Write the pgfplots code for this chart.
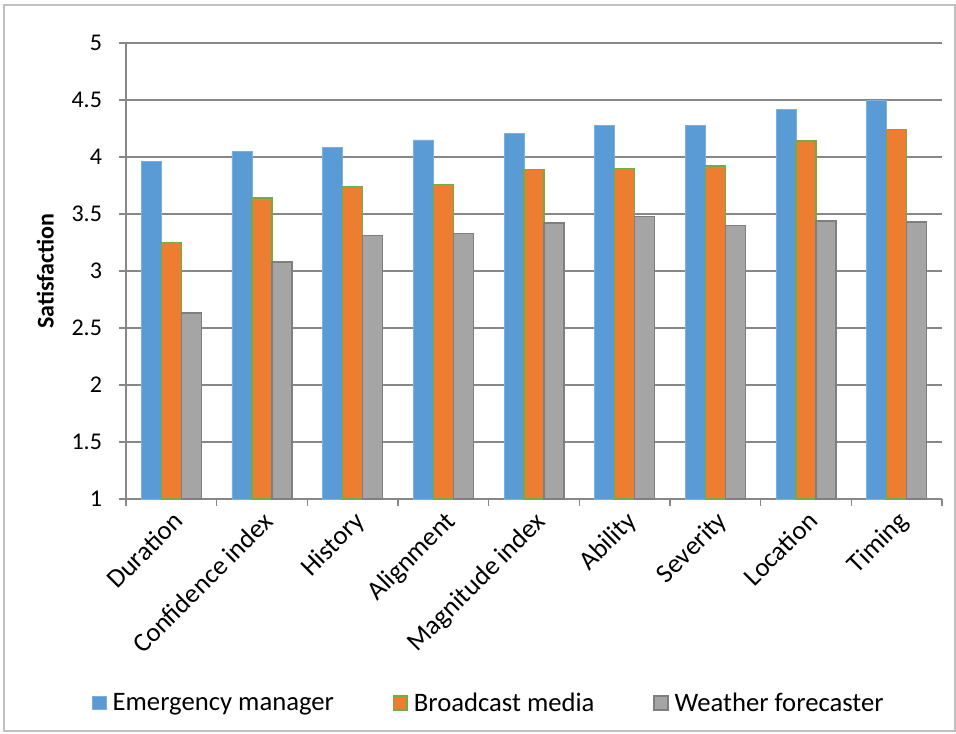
\documentclass[border=0pt]{standalone}
\usepackage{fontspec}
\setmainfont{Carlito}
\usepackage{pgfplots}
\pgfplotsset{compat=1.18}

\definecolor{emblue}{HTML}{5B9BD5}
\definecolor{emorange}{HTML}{ED7D31}
\definecolor{emgreen}{HTML}{70AD47}
\definecolor{emgray}{HTML}{A5A5A5}
\definecolor{edgegray}{HTML}{7F7F7F}
\definecolor{gridgray}{HTML}{878787}
\definecolor{framegray}{HTML}{BFBFBF}

\newcommand{\tickfont}{\fontsize{18}{21.6}\selectfont}
\newcommand{\catfont}{\fontsize{20}{24}\selectfont}

\begin{document}
\begin{tikzpicture}
\begin{scope}[x=0.75pt,y=0.75pt]
  \useasboundingbox (-126,-234) rectangle (830,499);
  \draw[framegray, line width=0.9pt] (-122,-232) rectangle (829,494);
\end{scope}
\begin{axis}[
    at={(0,0)}, anchor=south west,
    scale only axis,
    width=612pt, height=342pt,
    ybar=0pt, bar width=15pt,
    xmin=-0.5, xmax=8.5,
    ymin=1, ymax=5,
    ytick={1,1.5,...,5},
    xtick={0,...,8},
    xticklabels={Duration,Confidence index,History,Alignment,Magnitude index,Ability,Severity,Location,Timing},
    minor xtick={-0.5,0.5,...,8.5},
    major x tick style={draw=none},
    axis lines*=left,
    axis line style={gridgray, line width=0.8pt},
    tick align=outside,
    tick style={gridgray, line width=0.8pt},
    major tick length=5pt, minor tick length=5pt,
    ymajorgrids,
    grid style={gridgray, line width=0.8pt},
    /pgf/number format/assume math mode=true,
    yticklabel style={font=\tickfont, xshift=-9.5pt},
    xticklabel style={font=\catfont, rotate=45, anchor=north east, inner sep=2pt},
    ylabel={\textbf{Satisfaction}},
    ylabel style={font=\tickfont, at={(axis description cs:-0.099,0.5)}, anchor=center},
    legend columns=3,
    legend cell align=left,
    legend style={draw=none, fill=none, font=\catfont,
        at={(axis description cs:-0.042,-0.447)}, anchor=west, inner sep=0pt,
        /tikz/every odd column/.append style={column sep=2.5pt},
        /tikz/every even column/.append style={column sep=42pt}},
    legend image code/.code={\draw[#1] (0pt,-5.2pt) rectangle (10.4pt,5.2pt);},
]
\addplot[fill=emblue, draw=emblue!80!white, line width=0.6pt] coordinates {
  (0,3.96) (1,4.05) (2,4.08) (3,4.15) (4,4.21) (5,4.28) (6,4.28) (7,4.42) (8,4.50)};
\addplot[fill=emorange, draw=emgreen, line width=1.1pt] coordinates {
  (0,3.25) (1,3.64) (2,3.74) (3,3.76) (4,3.89) (5,3.90) (6,3.92) (7,4.14) (8,4.24)};
\addplot[fill=emgray, draw=edgegray, line width=1.1pt] coordinates {
  (0,2.63) (1,3.08) (2,3.31) (3,3.33) (4,3.42) (5,3.48) (6,3.40) (7,3.44) (8,3.43)};
\legend{Emergency manager, Broadcast media, Weather forecaster}
\end{axis}
\end{tikzpicture}
\end{document}
